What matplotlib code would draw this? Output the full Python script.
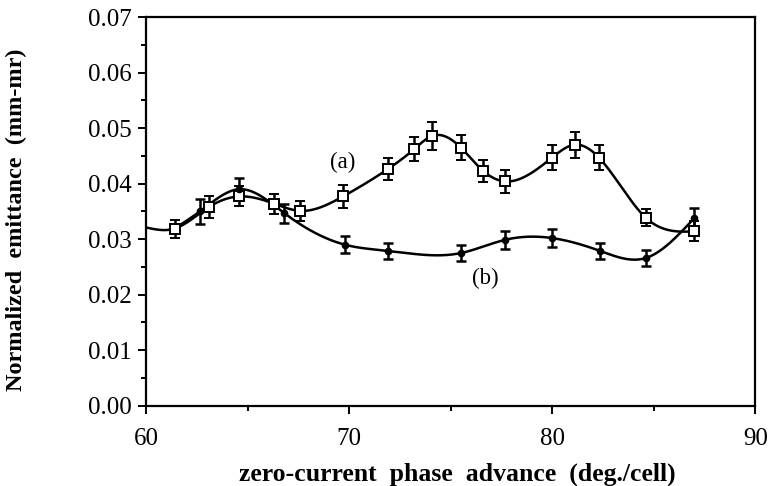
import numpy as np
import matplotlib
matplotlib.use("Agg")
import matplotlib.pyplot as plt
from matplotlib.ticker import MultipleLocator

plt.rcParams["font.family"] = ["Liberation Serif", "DejaVu Serif"]

# (a) open squares
x_a = [61.4, 63.1, 64.6, 66.3, 67.6, 69.7, 71.9, 73.2, 74.1, 75.5, 76.6, 77.7, 80.0, 81.1, 82.3, 84.6, 87.0]
y_a = [0.0319, 0.0358, 0.0377, 0.0364, 0.0351, 0.0377, 0.0426, 0.0462, 0.0486, 0.0465,
       0.0423, 0.0404, 0.0447, 0.0470, 0.0447, 0.0339, 0.0314]
err_a = [0.0016, 0.0019, 0.0018, 0.0018, 0.0018, 0.0020, 0.0020, 0.0022, 0.0025, 0.0023,
         0.0020, 0.0020, 0.0023, 0.0023, 0.0023, 0.0015, 0.0018]

# (b) filled dots
x_b = [62.65, 64.6, 66.8, 69.8, 71.9, 75.5, 77.7, 80.0, 82.35, 84.6, 87.0]
y_b = [0.0350, 0.0390, 0.0347, 0.0290, 0.0279, 0.0275, 0.0299, 0.0302, 0.0279, 0.0266, 0.0338]
err_b = [0.0023, 0.0020, 0.0017, 0.0015, 0.0014, 0.0014, 0.0016, 0.0016, 0.0014, 0.0015, 0.0018]

# where the fitted curves start
start_a = (60.0, 0.0321)
start_b = (61.4, 0.0319)


def natural_spline(x, y, xs):
    x = np.asarray(x, float)
    y = np.asarray(y, float)
    n = len(x)
    h = np.diff(x)
    A = np.zeros((n, n))
    r = np.zeros(n)
    A[0, 0] = 1.0
    A[-1, -1] = 1.0
    for i in range(1, n - 1):
        A[i, i - 1] = h[i - 1]
        A[i, i] = 2 * (h[i - 1] + h[i])
        A[i, i + 1] = h[i]
        r[i] = 6 * ((y[i + 1] - y[i]) / h[i] - (y[i] - y[i - 1]) / h[i - 1])
    M = np.linalg.solve(A, r)
    k = np.clip(np.searchsorted(x, xs) - 1, 0, n - 2)
    t0 = x[k + 1] - xs
    t1 = xs - x[k]
    hk = h[k]
    return (M[k] * t0 ** 3 / (6 * hk) + M[k + 1] * t1 ** 3 / (6 * hk)
            + (y[k] / hk - M[k] * hk / 6) * t0 + (y[k + 1] / hk - M[k + 1] * hk / 6) * t1)


fig = plt.figure(figsize=(7.73, 4.86), dpi=100)
ax = fig.add_axes([0.189, 0.165, 0.788, 0.800])

cx_a = [start_a[0]] + x_a
cy_a = [start_a[1]] + y_a
xs = np.linspace(cx_a[0], cx_a[-1], 400)
ax.plot(xs, natural_spline(cx_a, cy_a, xs), color="black", lw=1.8)

cx_b = [start_b[0]] + x_b
cy_b = [start_b[1]] + y_b
xs = np.linspace(cx_b[0], cx_b[-1], 400)
ax.plot(xs, natural_spline(cx_b, cy_b, xs), color="black", lw=1.8)

ax.errorbar(x_a, y_a, yerr=err_a, fmt="s", ms=6.5, mfc="white", mec="black", mew=1.4,
            ecolor="black", elinewidth=1.8, capsize=3.5, capthick=1.8, zorder=3)
ax.errorbar(x_b, y_b, yerr=err_b, fmt="o", ms=4.5, mfc="black", mec="black",
            ecolor="black", elinewidth=1.8, capsize=3.5, capthick=1.8, zorder=3)

ax.text(69.67, 0.0438, "(a)", fontsize=16.5, ha="center", va="center")
ax.text(76.7, 0.0230, "(b)", fontsize=16.5, ha="center", va="center")

ax.set_xlim(60, 90)
ax.set_ylim(0, 0.07)
ax.xaxis.set_major_locator(MultipleLocator(10))
ax.xaxis.set_minor_locator(MultipleLocator(5))
ax.yaxis.set_major_locator(MultipleLocator(0.01))
ax.yaxis.set_minor_locator(MultipleLocator(0.005))
ax.yaxis.set_major_formatter(plt.FormatStrFormatter("%.2f"))
ax.tick_params(which="major", direction="out", length=6, width=1.4, labelsize=18)
ax.tick_params(axis="x", which="major", pad=10)
ax.tick_params(axis="y", which="major", pad=4)
ax.tick_params(which="minor", direction="out", length=3.5, width=1.4)
for s in ax.spines.values():
    s.set_linewidth(1.6)

# axis titles placed where the reference has them
fig.text(0.591, 0.012, "zero-current  phase  advance  (deg./cell)", fontsize=18.5,
         fontweight="bold", ha="center", va="baseline")
fig.text(0.021, 0.547, "Normalized  emittance  (mm-mr)", fontsize=17.5,
         fontweight="bold", ha="center", va="center", rotation=90)

fig.savefig("out.png", dpi=100)
